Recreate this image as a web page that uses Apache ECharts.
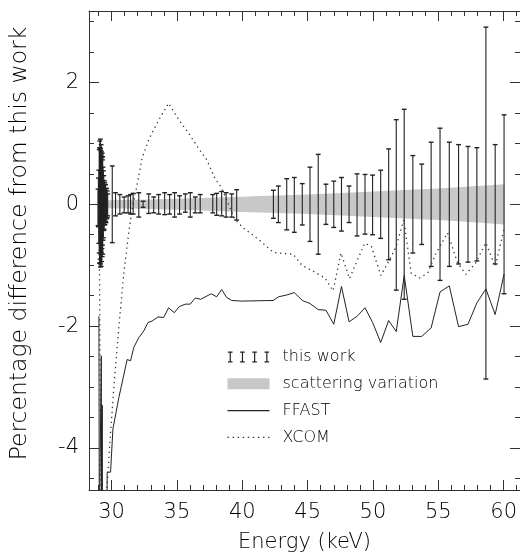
<!DOCTYPE html>
<html><head><meta charset="utf-8">
<script src="https://cdn.jsdelivr.net/npm/echarts@6/dist/echarts.min.js"></script>
<style>html,body{margin:0;padding:0;background:#fff}#c{width:520px;height:558px}</style>
</head><body><div id="c"></div>
<script>
// ---------- tick labels ----------
const xMajorTicks = [30, 35, 40, 45, 50, 55, 60];
const xMinorTicks = [29, 31, 32, 33, 34, 36, 37, 38, 39, 41, 42, 43, 44, 46, 47, 48, 49, 51, 52, 53, 54, 56, 57, 58, 59, 61];
const yMajorTicks = [-4, -2, 0, 2];
const yMinorTicks = [-4.5, -3.5, -3, -2.5, -1.5, -1, -0.5, 0.5, 1, 1.5, 2.5, 3];

// ---------- "this work" (error bars): energy, value, half-error ----------
const workE = [28.96, 28.99, 29.02, 29.05, 29.08, 29.10, 29.12, 29.14, 29.16, 29.18, 29.20, 29.22, 29.24, 29.26, 29.28, 29.30, 29.32, 29.34, 29.37, 29.40, 29.43, 29.46, 29.50, 29.54, 29.58, 29.62, 29.66, 29.70,
  30.05, 30.30, 30.63, 30.96, 31.26, 31.45, 31.65, 32.08, 32.41, 32.84, 33.22, 33.60, 34.06, 34.44, 34.82, 35.20, 35.64, 36.02, 36.40, 36.78,
  37.74, 38.04, 38.42, 38.76, 39.19, 39.57,
  42.38, 42.76, 43.40, 43.98, 44.59, 45.18, 45.81, 46.40, 47.00, 47.59, 48.17, 48.78, 49.39, 49.97,
  50.59, 51.20, 51.78, 52.39, 53.05, 53.73, 54.45, 55.13, 55.84, 56.55, 57.27, 57.95, 58.64, 59.35, 60.03];
const workV = [-0.05, 0.03, -0.04, 0.05, -0.02, 0.04, 0.00, 0.02, -0.03, 0.03, -0.02, 0.01, -0.04, 0.02, -0.01, 0.03, -0.02, 0.01, 0.00, 0.02, -0.01, 0.01, 0.00, 0.02, -0.02, 0.01, 0.00, -0.01,
  0.00, 0.00, 0.00, -0.01, 0.00, 0.00, 0.01, -0.01, 0.00, 0.01, -0.01, 0.00, 0.01, 0.00, -0.01, -0.01, 0.02, -0.01, -0.01, 0.01,
  0.01, 0.00, 0.01, -0.01, -0.02, -0.01,
  0.00, 0.00, 0.00, -0.01, 0.00, 0.00, 0.00, 0.00, 0.00, 0.00, 0.00, -0.01, 0.00, -0.01,
  0.00, 0.00, -0.01, 0.00, 0.00, 0.00, 0.00, 0.00, 0.00, 0.00, 0.00, 0.00, 0.02, 0.00, 0.00];
const workErr = [0.30, 0.40, 0.60, 0.85, 0.95, 1.00, 0.90, 1.05, 0.95, 0.85, 1.00, 0.80, 0.90, 0.75, 0.85, 0.70, 0.80, 0.60, 0.55, 0.45, 0.40, 0.35, 0.33, 0.30, 0.28, 0.25, 0.22, 0.18,
  0.63, 0.19, 0.16, 0.13, 0.14, 0.16, 0.17, 0.20, 0.05, 0.16, 0.13, 0.16, 0.18, 0.16, 0.20, 0.15, 0.15, 0.20, 0.13, 0.15,
  0.15, 0.18, 0.20, 0.20, 0.19, 0.25,
  0.23, 0.30, 0.42, 0.45, 0.34, 0.61, 0.82, 0.33, 0.38, 0.44, 0.30, 0.51, 0.49, 0.49,
  0.56, 0.91, 1.40, 1.56, 0.80, 0.66, 1.02, 1.25, 1.02, 0.98, 0.95, 0.93, 2.89, 0.98, 1.47];

// ---------- scattering variation band: energy, half-width ----------
const bandE = [29.70, 32.0, 35.0, 38.0, 40.0, 42.0, 45.0, 48.0, 50.0, 52.0, 55.0, 58.0, 60.05];
const bandW = [0.065, 0.075, 0.09, 0.11, 0.125, 0.14, 0.16, 0.19, 0.21, 0.23, 0.26, 0.30, 0.33];

// ---------- FFAST ----------
const ffastE = [29.03, 29.06, 29.18, 29.21, 29.24, 29.26, 29.28, 29.30, 29.64, 29.66, 29.92, 30.10, 30.56, 31.19, 31.45, 31.70, 32.08, 32.46, 32.79, 33.09, 33.55, 33.98, 34.36, 34.80, 35.18, 35.64, 36.02, 36.40, 36.82, 37.62, 38.04, 38.42, 38.80, 39.19, 39.95,
  42.38, 42.76, 43.40, 43.98, 44.59, 45.18, 45.81, 46.40, 47.00, 47.59, 48.17, 48.78, 49.39, 49.97, 50.59, 51.20, 51.78, 52.39, 53.05, 53.73, 54.45, 55.13, 55.84, 56.55, 57.27, 57.95, 58.64, 59.35, 60.03];
const ffastV = [-1.84, -5.5, -5.5, -2.49, -5.5, -5.5, -3.30, -5.5, -5.5, -4.40, -4.40, -3.69, -3.17, -2.55, -2.57, -2.35, -2.19, -2.08, -1.94, -1.92, -1.85, -1.86, -1.70, -1.78, -1.68, -1.64, -1.64, -1.54, -1.56, -1.47, -1.52, -1.40, -1.53, -1.58, -1.59,
  -1.58, -1.52, -1.49, -1.45, -1.58, -1.63, -1.73, -1.74, -1.97, -1.35, -1.93, -1.84, -1.70, -1.94, -2.27, -1.91, -2.09, -1.17, -2.17, -2.17, -2.03, -1.44, -1.34, -2.01, -1.97, -1.62, -1.39, -1.81, -1.15];

// ---------- XCOM ----------
const xcomE = [29.02, 29.07, 29.20, 29.50, 29.60, 29.66, 29.92, 30.18, 30.56, 30.94, 31.32, 31.60, 31.95, 32.33, 32.84, 33.47, 33.98, 34.36, 35.13, 35.89, 36.65, 37.28, 37.92, 38.42, 38.90, 39.44, 40.08, 40.60, 41.37, 42.38, 43.15, 43.90, 44.55, 45.43, 46.32, 46.95, 47.55, 48.20, 49.37, 49.88, 50.60, 51.27, 51.78, 52.36, 52.92, 53.56, 54.19, 54.83, 55.71, 56.47, 57.11, 57.87, 58.64, 59.35, 60.03];
const xcomV = [0.00, -1.00, -5.5, -5.5, -4.90, -4.60, -3.75, -2.98, -2.00, -1.12, -0.45, -0.05, 0.32, 0.76, 1.06, 1.33, 1.52, 1.66, 1.39, 1.17, 0.92, 0.73, 0.42, 0.27, 0.02, -0.25, -0.39, -0.47, -0.60, -0.79, -0.81, -0.82, -1.00, -1.10, -1.21, -1.42, -0.80, -1.22, -0.64, -0.69, -1.17, -0.91, -0.69, -0.25, -1.13, -1.21, -1.13, -0.80, -0.47, -0.96, -1.15, -0.96, -0.63, -1.02, -0.41];

const X_MIN = 28.27, X_MAX = 61.25, Y_MIN = -4.693, Y_MAX = 3.175;
const FONT = 'DejaVu Sans';
const INK = '#222';
const TXT = '#000';
const AX = '#333';

function renderErr(params, api) {
  const x = api.value(0), v = api.value(1), e = api.value(2);
  const t = api.coord([x, v + e]);
  const b = api.coord([x, v - e]);
  const c = 2.4;
  return {
    type: 'group', children: [
      { type: 'line', shape: { x1: t[0], y1: t[1], x2: b[0], y2: b[1] }, style: { stroke: INK, lineWidth: 1.1 } },
      { type: 'line', shape: { x1: t[0] - c, y1: t[1], x2: t[0] + c, y2: t[1] }, style: { stroke: INK, lineWidth: 1.4 } },
      { type: 'line', shape: { x1: b[0] - c, y1: b[1], x2: b[0] + c, y2: b[1] }, style: { stroke: INK, lineWidth: 1.4 } }
    ]
  };
}
function renderBand(params, api) {
  if (params.dataIndex !== 0) return null;
  const pts = [];
  for (let i = 0; i < bandE.length; i++) pts.push(api.coord([bandE[i], bandW[i]]));
  for (let i = bandE.length - 1; i >= 0; i--) pts.push(api.coord([bandE[i], -bandW[i]]));
  return { type: 'polygon', shape: { points: pts }, style: { fill: '#c8c8c8' } };
}

// legend icon paths (style only)
let ibeams = 'path://';
for (let k = 0; k < 4; k++) {
  const x0 = k * 13.3;
  ibeams += `M${x0},0h5v1.3h-5z M${x0 + 1.9},0h1.3v12h-1.3z M${x0},10.7h5v1.3h-5z `;
}
let dots = 'path://';
for (let k = 0; k < 9; k++) { const x0 = k * 4.6; dots += `M${x0},0h1.3v1.3h-1.3z `; }
const solid = 'path://M0,0h40v1.1h-40z';

function xAx(pos, ticks, len, line, labels, extra) {
  return Object.assign({
    type: 'value', position: pos, min: X_MIN, max: X_MAX,
    axisLine: { show: line, onZero: false, lineStyle: { color: AX, width: 1 } },
    axisTick: { show: true, inside: true, length: len, customValues: ticks, lineStyle: { color: AX, width: 1 } },
    axisLabel: labels ? { show: true, customValues: labels, margin: 12, color: TXT, fontSize: 21, fontFamily: FONT, fontWeight: 200 } : { show: false },
    splitLine: { show: false }
  }, extra || {});
}
function yAx(pos, ticks, len, line, labels, extra) {
  return Object.assign({
    type: 'value', position: pos, min: Y_MIN, max: Y_MAX,
    axisLine: { show: line, onZero: false, lineStyle: { color: AX, width: 1 } },
    axisTick: { show: true, inside: true, length: len, customValues: ticks, lineStyle: { color: AX, width: 1 } },
    axisLabel: labels ? { show: true, customValues: labels, margin: 10, color: TXT, fontSize: 21, fontFamily: FONT, fontWeight: 200 } : { show: false },
    splitLine: { show: false }
  }, extra || {});
}

const chart = echarts.init(document.getElementById('c'), null, { renderer: 'canvas' });
chart.setOption({
  animation: false,
  backgroundColor: '#fff',
  grid: { left: 88, right: -1, top: 11, bottom: 67, containLabel: false },
  xAxis: [
    xAx('bottom', xMajorTicks, 10, true, xMajorTicks, {
      name: 'Energy (keV)', nameLocation: 'middle', nameGap: 42,
      nameTextStyle: { color: TXT, fontSize: 21, fontFamily: FONT, fontWeight: 200 }
    }),
    xAx('bottom', xMinorTicks, 5, false, null),
    xAx('top', xMajorTicks, 10, true, null),
    xAx('top', xMinorTicks, 5, false, null)
  ],
  yAxis: [
    yAx('left', yMajorTicks, 10, true, yMajorTicks, {
      name: 'Percentage difference from this work', nameLocation: 'middle', nameGap: 57,
      nameTextStyle: { color: TXT, fontSize: 23.5, fontFamily: FONT, fontWeight: 200, padding: [0, 0, 0, 14] }
    }),
    yAx('left', yMinorTicks, 5, false, null),
    yAx('right', yMajorTicks, 10, true, null),
    yAx('right', yMinorTicks, 5, false, null)
  ],
  legend: {
    orient: 'vertical', left: 227.5, top: 349, padding: 0,
    itemWidth: 42, itemHeight: 11, itemGap: 10.8,
    textStyle: { color: TXT, fontSize: 16, fontFamily: FONT, fontWeight: 200, lineHeight: 16, padding: [0, 0, 0, 8] },
    itemStyle: { borderWidth: 0 },
    data: [
      { name: 'this work', icon: ibeams },
      { name: 'scattering variation', icon: 'rect' },
      { name: 'FFAST', icon: solid },
      { name: 'XCOM', icon: dots }
    ]
  },
  series: [
    {
      name: 'scattering variation', type: 'custom', renderItem: renderBand, clip: true, z: 1,
      itemStyle: { color: '#c8c8c8' },
      encode: { x: 0, y: 1 },
      data: bandE.map((e, i) => [e, bandW[i]])
    },
    {
      name: 'this work', type: 'custom', renderItem: renderErr, clip: true, z: 3,
      itemStyle: { color: INK },
      encode: { x: 0, y: 1 },
      data: workE.map((e, i) => [e, workV[i], workErr[i]])
    },
    {
      name: 'FFAST', type: 'line', symbol: 'none', clip: true, z: 4,
      itemStyle: { color: INK },
      lineStyle: { color: INK, width: 1 },
      data: ffastE.map((e, i) => [e, ffastV[i]])
    },
    {
      name: 'XCOM', type: 'line', symbol: 'none', clip: true, z: 4,
      itemStyle: { color: '#333' },
      lineStyle: { color: '#333', width: 1.3, type: [1.3, 3.7] },
      data: xcomE.map((e, i) => [e, xcomV[i]])
    }
  ]
});
</script>
</body></html>
